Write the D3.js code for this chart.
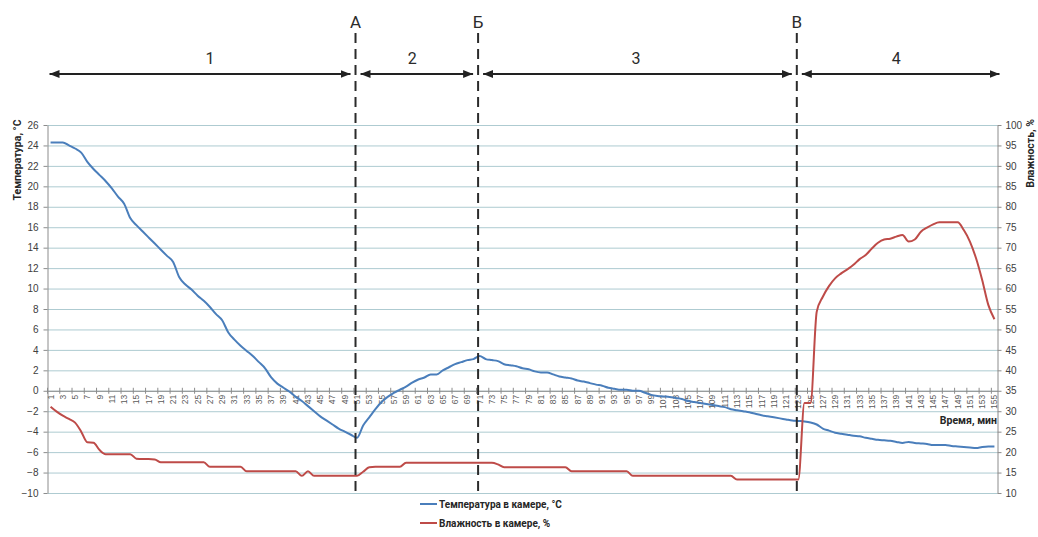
<!DOCTYPE html>
<html>
<head>
<meta charset="utf-8">
<script src="https://cdn.jsdelivr.net/npm/d3@7"></script>
<style>
  html, body { margin: 0; padding: 0; background: #fff; }
  svg { display: block; font-family: Roboto, "Open Sans", sans-serif; }
</style>
</head>
<body>
<svg id="chart" width="1038" height="537"></svg>
<script>
// minutes 1..155 (category axis)
var minutes = d3.range(1, 156);

// temperature in chamber, °C
var temperature = [
  24.3, 24.3, 24.3, 24.0, 23.7, 23.3, 22.4, 21.7, 21.1, 20.5,
  19.8, 19.0, 18.3, 16.9, 16.2, 15.6, 15.0, 14.4, 13.8, 13.2,
  12.6, 11.1, 10.4, 9.9, 9.3, 8.8, 8.2, 7.5, 6.9, 5.7,
  5.0, 4.4, 3.9, 3.4, 2.8, 2.2, 1.3, 0.7, 0.3, -0.1,
  -0.6, -1.0, -1.5, -2.0, -2.5, -2.9, -3.3, -3.7, -4.0, -4.3,
  -4.6, -3.4, -2.6, -1.8, -1.1, -0.6, -0.2, 0.1, 0.4, 0.8,
  1.1, 1.3, 1.6, 1.6, 2.0, 2.3, 2.6, 2.8, 3.0, 3.1,
  3.4, 3.1, 3.0, 2.9, 2.6, 2.5, 2.4, 2.2, 2.1, 1.9,
  1.8, 1.8, 1.6, 1.4, 1.3, 1.2, 1.0, 0.9, 0.75, 0.6,
  0.5, 0.3, 0.2, 0.1, 0.1, 0.0, 0.0, -0.2, -0.4, -0.5,
  -0.55, -0.6, -0.7, -0.8, -1.0, -1.1, -1.2, -1.3, -1.4, -1.5,
  -1.6, -1.8, -1.9, -2.0, -2.1, -2.25, -2.4, -2.5, -2.6, -2.7,
  -2.8, -2.9, -2.95, -3.0, -3.1, -3.3, -3.7, -3.9, -4.1, -4.2,
  -4.3, -4.4, -4.45, -4.6, -4.7, -4.8, -4.85, -4.9, -5.0, -5.1,
  -5.0, -5.1, -5.15, -5.2, -5.3, -5.3, -5.3, -5.4, -5.45, -5.5,
  -5.55, -5.6, -5.5, -5.45, -5.45
];

// humidity in chamber, %
var humidity = [
  31.1, 29.9, 28.9, 28.1, 27.2, 25.0, 22.4, 22.3, 20.5, 19.5,
  19.5, 19.5, 19.5, 19.5, 18.4, 18.3, 18.3, 18.2, 17.5, 17.5,
  17.5, 17.5, 17.5, 17.5, 17.5, 17.5, 16.4, 16.4, 16.4, 16.4,
  16.4, 16.4, 15.3, 15.3, 15.3, 15.3, 15.3, 15.3, 15.3, 15.3,
  15.3, 14.2, 15.3, 14.2, 14.2, 14.2, 14.2, 14.2, 14.2, 14.2,
  14.2, 15.2, 16.3, 16.4, 16.4, 16.4, 16.4, 16.4, 17.4, 17.4,
  17.4, 17.4, 17.4, 17.4, 17.4, 17.4, 17.4, 17.4, 17.4, 17.4,
  17.4, 17.4, 17.4, 17.0, 16.3, 16.3, 16.3, 16.3, 16.3, 16.3,
  16.3, 16.3, 16.3, 16.3, 16.3, 15.3, 15.3, 15.3, 15.3, 15.3,
  15.3, 15.3, 15.3, 15.3, 15.3, 14.2, 14.2, 14.2, 14.2, 14.2,
  14.2, 14.2, 14.2, 14.2, 14.2, 14.2, 14.2, 14.2, 14.2, 14.2,
  14.2, 14.2, 13.3, 13.3, 13.3, 13.3, 13.3, 13.3, 13.3, 13.3,
  13.3, 13.3, 13.3, 32.0, 32.0, 54.3, 58.0, 60.6, 62.5, 63.7,
  64.7, 65.8, 67.2, 68.2, 69.8, 71.2, 72.0, 72.2, 72.7, 73.1,
  71.5, 72.0, 73.9, 74.9, 75.7, 76.2, 76.2, 76.2, 76.2, 74.3,
  71.5, 67.4, 62.1, 56.0, 52.5
];

var tempTicks = [26, 24, 22, 20, 18, 16, 14, 12, 10, 8, 6, 4, 2, 0, -2, -4, -6, -8, -10];
var humTicks = [100, 95, 90, 85, 80, 75, 70, 65, 60, 55, 50, 45, 40, 35, 30, 25, 20, 15, 10];
var minuteLabels = minutes.filter(function(m) { return m % 2 === 1; });

// phase boundaries (minute), phase names and where their numbers sit (minute)
var markers = [{ label: "А", minute: 51 }, { label: "Б", minute: 71 }, { label: "В", minute: 123 }];
var phases = ["1", "2", "3", "4"];
var phaseLabelMinutes = [27, 60, 96.5, 139];

var seriesNames = ["Температура в камере, °С", "Влажность в камере, %"];
var colors = ["#4a7ebb", "#be4b48"];

var svg = d3.select("#chart");
var plot = { left: 47.5, right: 997.5, top: 125, bottom: 493 };

var x = d3.scaleBand().domain(minutes).range([plot.left, plot.right]).padding(0);
var cx = function(m) { return plot.left + (m - minutes[0] + 0.5) * x.bandwidth(); };
var yT = d3.scaleLinear().domain([-10, 26]).range([plot.bottom, plot.top]);
var yH = d3.scaleLinear().domain([10, 100]).range([plot.bottom, plot.top]);

// gridlines
svg.append("g")
  .attr("transform", "translate(" + plot.left + ",0)")
  .call(d3.axisLeft(yT).tickValues(tempTicks).tickSize(-(plot.right - plot.left)).tickFormat(""))
  .call(function(g) { g.select(".domain").remove(); })
  .selectAll("line").attr("stroke", "#aecbd1").attr("stroke-width", 1);

// left axis
var gl = svg.append("g")
  .attr("transform", "translate(" + plot.left + ",0)")
  .call(d3.axisLeft(yT).tickValues(tempTicks).tickSize(4).tickSizeOuter(0).tickPadding(5));
gl.select(".domain").attr("stroke", "#8c8c8c");
gl.selectAll("line").attr("stroke", "#8c8c8c");
gl.selectAll("text").attr("fill", "#404040").style("font-size", "10px");

// right axis
var gr = svg.append("g")
  .attr("transform", "translate(" + plot.right + ",0)")
  .call(d3.axisRight(yH).tickValues(humTicks).tickSize(4).tickSizeOuter(0).tickPadding(4));
gr.select(".domain").attr("stroke", "#8c8c8c");
gr.selectAll("line").attr("stroke", "#8c8c8c");
gr.selectAll("text").attr("fill", "#404040").style("font-size", "10px");

// category axis at 0 °C
var gx = svg.append("g")
  .attr("transform", "translate(0," + yT(0) + ")")
  .call(d3.axisBottom(x).tickValues(minuteLabels).tickSize(0).tickSizeOuter(0));
gx.select(".domain").attr("stroke", "#8c8c8c");
gx.selectAll("text")
  .attr("transform", "rotate(-90)")
  .attr("x", -4).attr("y", 0).attr("dy", "0.35em")
  .style("text-anchor", "end")
  .style("font-size", "8.5px")
  .attr("fill", "#595959");
gx.selectAll(".xtick").data(minuteLabels).enter().append("line")
  .attr("class", "xtick")
  .attr("x1", function(m) { return x(m); }).attr("x2", function(m) { return x(m); })
  .attr("y1", -3).attr("y2", 3)
  .attr("stroke", "#8c8c8c");

svg.append("text")
  .attr("x", 997).attr("y", 424)
  .attr("text-anchor", "end")
  .style("font-size", "10.5px").style("font-weight", "bold").attr("fill", "#262626")
  .text("Время, мин");

// axis titles
svg.append("text")
  .attr("transform", "translate(21,160) rotate(-90)")
  .attr("text-anchor", "middle")
  .style("font-size", "10.5px").style("font-weight", "bold").attr("fill", "#262626")
  .text("Температура, °С");
svg.append("text")
  .attr("transform", "translate(1034,119) rotate(-90)")
  .attr("text-anchor", "end")
  .style("font-size", "10.5px").style("font-weight", "bold").attr("fill", "#262626")
  .text("Влажность, %");

// series lines
var lineT = d3.line().x(function(d, i) { return cx(minutes[i]); }).y(function(d) { return yT(d); }).curve(d3.curveMonotoneX);
var lineH = d3.line().x(function(d, i) { return cx(minutes[i]); }).y(function(d) { return yH(d); }).curve(d3.curveMonotoneX);

svg.append("path").datum(temperature).attr("d", lineT)
  .attr("fill", "none").attr("stroke", colors[0]).attr("stroke-width", 2).attr("stroke-linejoin", "round");
svg.append("path").datum(humidity).attr("d", lineH)
  .attr("fill", "none").attr("stroke", colors[1]).attr("stroke-width", 2).attr("stroke-linejoin", "round");

// phase markers
svg.append("defs").append("marker")
  .attr("id", "arrow")
  .attr("viewBox", "0 0 10 8").attr("refX", 10).attr("refY", 4)
  .attr("markerWidth", 10).attr("markerHeight", 8)
  .attr("markerUnits", "userSpaceOnUse")
  .attr("orient", "auto-start-reverse")
  .append("path").attr("d", "M0,0 L10,4 L0,8 Z").attr("fill", "#222");

var mx = function(d) { return cx(d.minute) - 1.5; };
var bounds = [plot.left + 2].concat(markers.map(mx), [plot.right + 2]);

svg.selectAll(".vline").data(markers).enter().append("line")
  .attr("class", "vline")
  .attr("x1", mx).attr("x2", mx)
  .attr("y1", 33).attr("y2", plot.bottom)
  .attr("stroke", "#2b2b2b").attr("stroke-width", 2).attr("stroke-dasharray", "10,6");

svg.selectAll(".mlabel").data(markers).enter().append("text")
  .attr("class", "mlabel")
  .attr("x", mx).attr("y", 28)
  .attr("text-anchor", "middle")
  .style("font-size", "17px").attr("fill", "#2b2b2b")
  .text(function(d) { return d.label; });

phases.forEach(function(p, i) {
  var a = bounds[i] + (i === 0 ? 0 : 5);
  var b = bounds[i + 1] - (i === phases.length - 1 ? 0 : 5);
  svg.append("line")
    .attr("x1", a).attr("x2", b).attr("y1", 74).attr("y2", 74)
    .attr("stroke", "#222").attr("stroke-width", 2)
    .attr("marker-start", "url(#arrow)").attr("marker-end", "url(#arrow)");
  svg.append("text")
    .attr("x", cx(phaseLabelMinutes[i])).attr("y", 64)
    .attr("text-anchor", "middle")
    .style("font-size", "16px").attr("fill", "#2b2b2b")
    .text(p);
});

// legend
var legend = svg.append("g").attr("transform", "translate(420,504)");
seriesNames.forEach(function(name, i) {
  var row = legend.append("g").attr("transform", "translate(0," + (i * 19) + ")");
  row.append("line").attr("x1", 0).attr("x2", 17).attr("y1", 0).attr("y2", 0)
    .attr("stroke", colors[i]).attr("stroke-width", 2);
  row.append("text").attr("x", 19).attr("y", 3.5)
    .style("font-size", "10px").style("font-weight", "bold").attr("fill", "#262626")
    .text(name);
});
</script>
</body>
</html>
